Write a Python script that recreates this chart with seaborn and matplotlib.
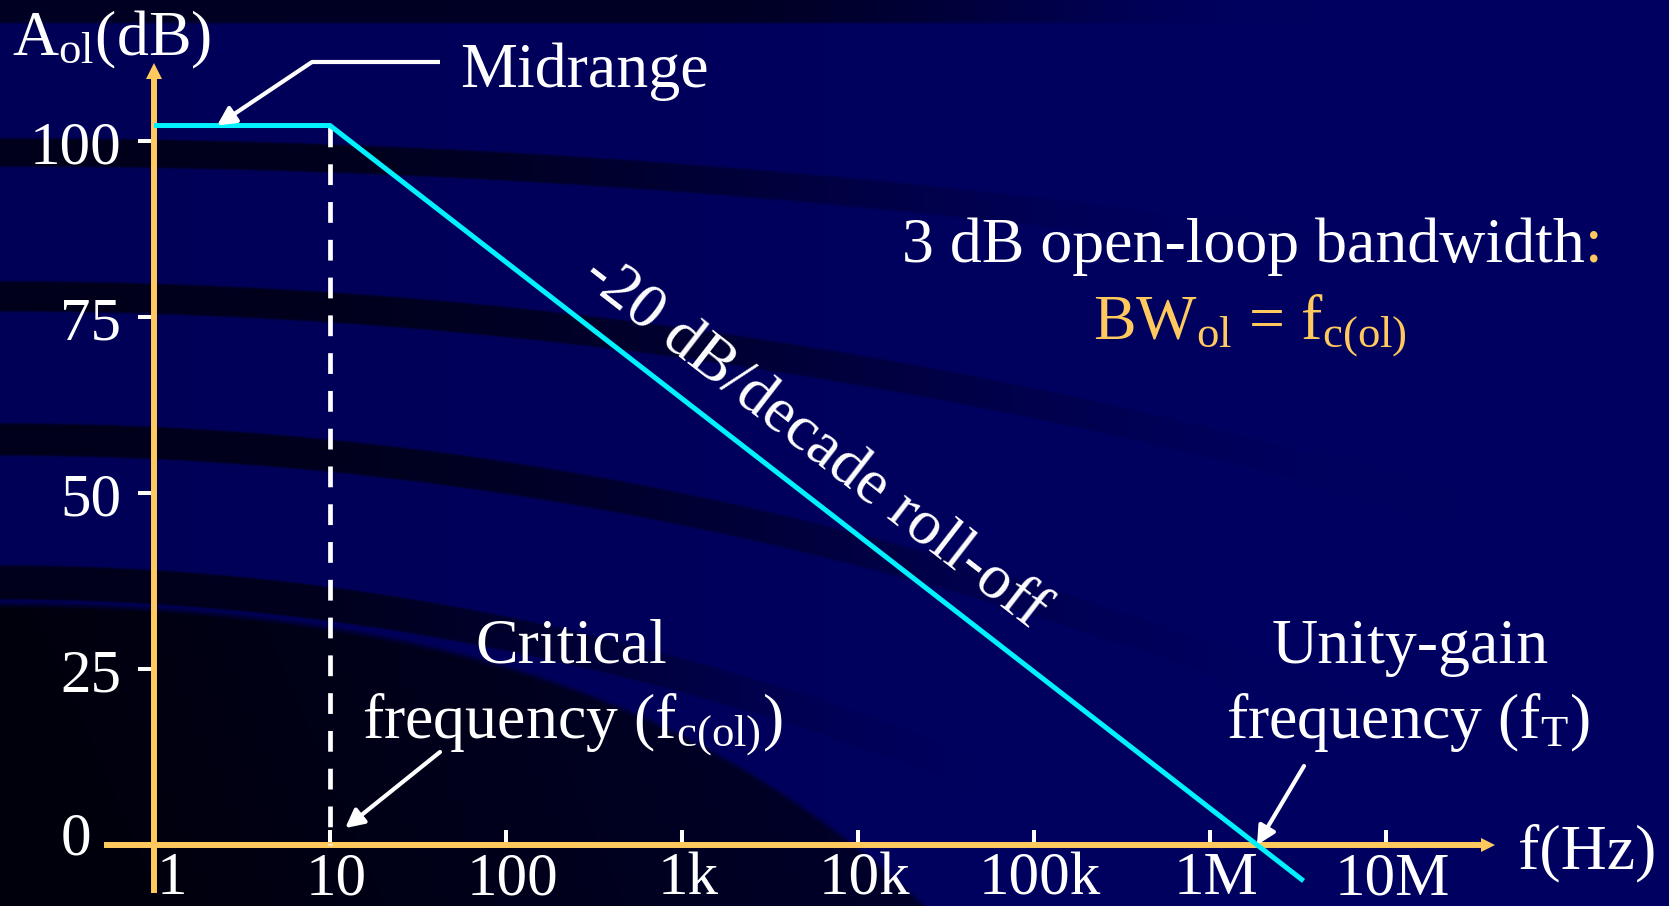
import numpy as np
import pandas as pd
import matplotlib
matplotlib.use("Agg")
import matplotlib.pyplot as plt
import matplotlib.transforms as mtransforms
from matplotlib.ticker import NullLocator
import seaborn as sns

# Straight-line Bode magnitude of the op-amp open-loop gain
freq_hz = [1, 10, 3.4e6]
gain_db = [102.2, 102.2, -5.1]
f_critical = 10          # critical (corner) frequency, Hz
f_unity = 1.85e6         # unity-gain frequency, Hz

freq_ticks = [1, 10, 100, 1e3, 1e4, 1e5, 1e6, 1e7]
freq_tick_labels = ["1", "10", "100", "1k", "10k", "100k", "1M", "10M"]
gain_ticks = [0, 25, 50, 75, 100]
gain_tick_labels = ["0", "25", "50", "75", "100"]

# ---- canvas geometry (pixels) ----
W, H, DPI = 1669, 907, 100
X0_PX, Y0_PX = 154, 846        # where 1 Hz / 0 dB sit
PX_PER_DECADE = 176
PX_PER_DB = 176 / 25

ORANGE = "#ffc95e"
CYAN = "#00f2ff"
NAVY = np.array([0, 0, 96]) / 255.0
TXT = 46


def at(px, py):
    """pixel position -> axes fraction (axes fills the figure)"""
    return px / W, 1 - py / H


def smooth(t):
    t = np.clip(t, 0, 1)
    return t * t * (3 - 2 * t)


def backdrop(w, h):
    yy, xx = np.mgrid[0:h, 0:w].astype(float)
    shade = 0.9 + 0.1 * np.clip(xx / 1200, 0, 1)
    # dark strip along the top edge
    top = smooth((26 - yy) / 5) * (1 - smooth((xx - 700) / 600))
    shade = shade * (1 - 0.6 * top)
    # sweeping dark bands
    for y0, c, half, fade_end in [(153, 55, 14, 1300), (297, 100, 15, 1450),
                                  (440, 150, 16, 1350), (583, 200, 17, 1000)]:
        yc = y0 + c * (xx / 1000) ** 2
        d = np.abs(yy - yc)
        prof = 1 - smooth((d - half + 2) / 4)
        fade = 1 - smooth((xx - 250) / (fade_end - 250))
        shade = shade * (1 - 0.68 * prof * fade)
    # deep shadow in the lower-left corner
    xb = xx / 1000
    yb = 600 + 200 * xb ** 2 + 180 * xb ** 4
    inside = smooth((yy - yb) / 10)
    depth = np.clip(1 - xx / 900 + (yy - 600) / 600 * 0.3, 0, 1)
    shade = shade * (1 - inside * (0.5 + 0.35 * depth))
    return np.clip(NAVY[None, None, :] * shade[..., None], 0, 1)


sns.set_theme(style="white")
plt.rcParams["font.family"] = ["Liberation Serif", "DejaVu Serif"]
plt.rcParams["mathtext.fontset"] = "custom"
plt.rcParams["mathtext.rm"] = "Liberation Serif"
plt.rcParams["mathtext.it"] = "Liberation Serif:italic"
plt.rcParams["mathtext.bf"] = "Liberation Serif:bold"

fig = plt.figure(figsize=(W / DPI, H / DPI - 1e-4), dpi=DPI)
fig.patch.set_facecolor(NAVY)
fig.figimage(backdrop(W, H), xo=0, yo=0, origin="upper", zorder=-10)

ax = fig.add_axes([0, 0, 1, 1])
ax.patch.set_visible(False)
ax.set_xscale("log")
ax.set_xlim(10 ** (-X0_PX / PX_PER_DECADE), 10 ** ((W - X0_PX) / PX_PER_DECADE))
ax.set_ylim((Y0_PX - H) / PX_PER_DB, Y0_PX / PX_PER_DB)

# gain curve
df = pd.DataFrame({"f": freq_hz, "A": gain_db})
sns.lineplot(data=df, x="f", y="A", ax=ax, color=CYAN, lw=3.6, zorder=4,
             solid_capstyle="butt", sort=False)
ax.set_xlabel("")
ax.set_ylabel("")

# dashed marker at the critical frequency
ax.plot([f_critical, f_critical], [gain_db[1], 0], color="white", lw=3.4,
        dashes=(4.4, 3.6), zorder=3)

# axes drawn as orange arrows through the origin
for s in ["top", "right"]:
    ax.spines[s].set_visible(False)
ax.spines["left"].set_position(("data", 1))
ax.spines["bottom"].set_position(("data", 0))
ax.spines["left"].set_bounds((Y0_PX - 894) / PX_PER_DB, (Y0_PX - 80) / PX_PER_DB)
ax.spines["bottom"].set_bounds(10 ** ((104 - X0_PX) / PX_PER_DECADE),
                               10 ** ((1481 - X0_PX) / PX_PER_DECADE))
for s in ["left", "bottom"]:
    ax.spines[s].set_color(ORANGE)
    ax.spines[s].set_linewidth(4.3)
    ax.spines[s].set_capstyle("butt")
ax.plot([1], [(Y0_PX - 71.5) / PX_PER_DB], marker="^", ms=12, mew=0,
        color=ORANGE, clip_on=False, zorder=5)
ax.plot([10 ** ((1488 - X0_PX) / PX_PER_DECADE)], [0], marker=">", ms=10.5,
        mew=0, color=ORANGE, clip_on=False, zorder=5)

# ticks
ax.set_xticks(freq_ticks, labels=freq_tick_labels)
ax.xaxis.set_minor_locator(NullLocator())
ax.set_yticks(gain_ticks, labels=gain_tick_labels)
ax.yaxis.set_minor_locator(NullLocator())
ax.tick_params(axis="x", which="major", direction="in", length=11, width=2.9,
               color="white", labelcolor="white", labelsize=44, pad=4,
               bottom=True, top=False)
ax.tick_params(axis="y", which="major", direction="out", length=11.5, width=2.9,
               color="white", labelcolor="white", labelsize=44, pad=12,
               left=True, right=False)
ax.grid(False)


def nudge(label, dx_px, dy_px):
    label.set_transform(label.get_transform() + mtransforms.ScaledTranslation(
        dx_px / DPI, dy_px / DPI, fig.dpi_scale_trans))


for tick in ax.xaxis.get_major_ticks():
    nudge(tick.label1, 6, 0)
nudge(ax.xaxis.get_major_ticks()[0].label1, 12, 0)
nudge(ax.yaxis.get_major_ticks()[0].label1, -30, 13)

# axis titles
ax.text(*at(12, 55), r"A$_{\mathrm{ol}}$(dB)", transform=ax.transAxes,
        color="white", fontsize=TXT, ha="left", va="baseline")
ax.text(*at(1518, 868), "f(Hz)", transform=ax.transAxes,
        color="white", fontsize=TXT, ha="left", va="baseline")

arrow_kw = dict(arrowstyle="-|>,head_length=0.55,head_width=0.28", color="white",
                lw=3, mutation_scale=20, shrinkA=0, shrinkB=0)

# midrange
ax.text(*at(460, 87), "Midrange", transform=ax.transAxes, color="white",
        fontsize=TXT, ha="left", va="baseline")
ax.plot([312 / W, 440 / W], [1 - 63 / H] * 2, transform=ax.transAxes,
        color="white", lw=3, solid_capstyle="butt", zorder=6)
ax.annotate("", xy=(2.28, gain_db[0]), xycoords="data",
            xytext=at(312, 63), textcoords="axes fraction",
            arrowprops=arrow_kw, zorder=6)

# roll-off label, parallel to the slope
p1 = ax.transData.transform((freq_hz[1], gain_db[1]))
p2 = ax.transData.transform((freq_hz[2], gain_db[2]))
angle = np.degrees(np.arctan2(p2[1] - p1[1], p2[0] - p1[0]))
ax.text(*at(815, 442), "-20 dB/decade roll-off", transform=ax.transAxes,
        color="white", fontsize=TXT, rotation=angle, rotation_mode="anchor",
        ha="center", va="center")

# bandwidth note
bw = ax.text(*at(902, 262), "3 dB open-loop bandwidth", transform=ax.transAxes,
             color="white", fontsize=TXT, ha="left", va="baseline")
ax.annotate(":", xy=(1, 0), xycoords=bw, color=ORANGE, fontsize=TXT,
            ha="left", va="bottom")
ax.text(*at(1250, 339), r"BW$_{\mathrm{ol}}$ = f$_{\mathrm{c(ol)}}$",
        transform=ax.transAxes, color=ORANGE, fontsize=TXT,
        ha="center", va="baseline")

# critical frequency
ax.text(*at(571, 663), "Critical", transform=ax.transAxes, color="white",
        fontsize=TXT, ha="center", va="baseline")
ax.text(*at(572, 738), r"frequency (f$_{\mathrm{c(ol)}}$)", transform=ax.transAxes,
        color="white", fontsize=TXT, ha="center", va="baseline")
ax.annotate("", xy=(f_critical * 1.22, 2.4), xycoords="data",
            xytext=at(440, 753), textcoords="axes fraction",
            arrowprops=arrow_kw, zorder=6)

# unity-gain frequency
ax.text(*at(1410, 663), "Unity-gain", transform=ax.transAxes, color="white",
        fontsize=TXT, ha="center", va="baseline")
ax.text(*at(1408, 738), r"frequency (f$_{\mathrm{T}}$)", transform=ax.transAxes,
        color="white", fontsize=TXT, ha="center", va="baseline")
ax.annotate("", xy=(f_unity, 0), xycoords="data",
            xytext=at(1304, 767), textcoords="axes fraction",
            arrowprops=arrow_kw, zorder=6)

fig.savefig("out.png", dpi=DPI, facecolor=fig.get_facecolor())
